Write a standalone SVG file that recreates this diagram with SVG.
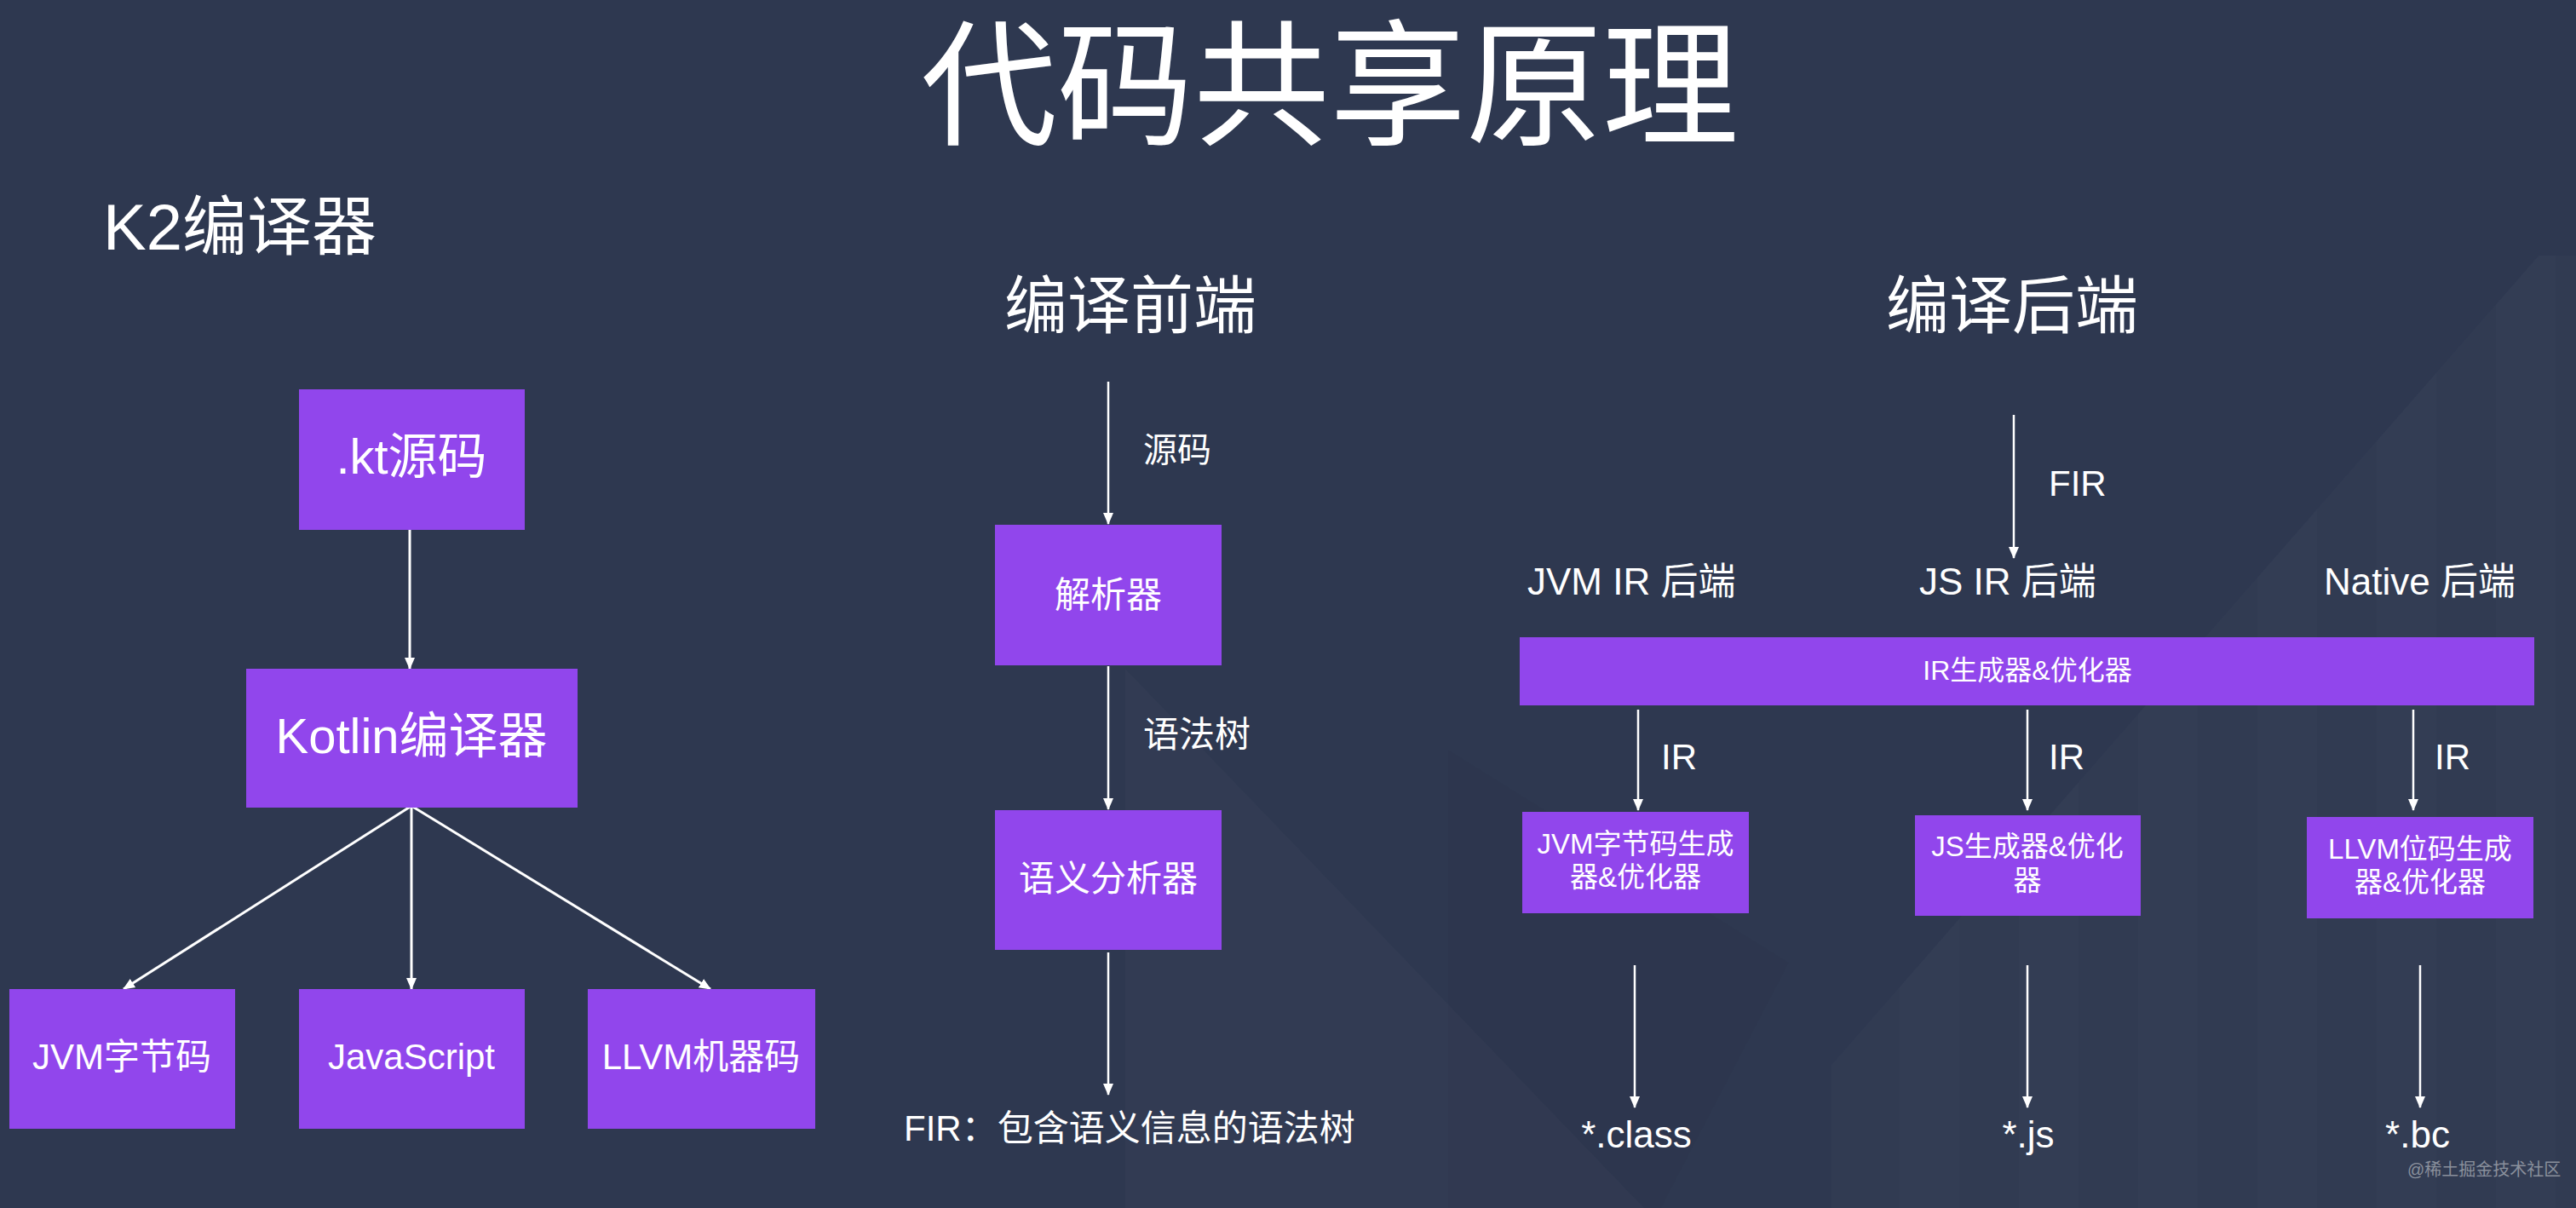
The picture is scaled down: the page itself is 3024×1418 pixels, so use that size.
<svg xmlns="http://www.w3.org/2000/svg" width="3024" height="1418" viewBox="0 0 3024 1418">
<style>
text{font-family:"Liberation Sans","Noto Sans CJK SC",sans-serif;fill:#ffffff}
.box{fill:#9146ec}
.c{text-anchor:middle}
.conn line{stroke:#ffffff;stroke-width:2.5}
.thick line{stroke-width:3}
</style>
<defs>
<marker id="ah" markerUnits="userSpaceOnUse" markerWidth="14" markerHeight="16" refX="13" refY="6" orient="auto" viewBox="0 0 14 12">
<path d="M0,0 L14,6 L0,12 Z" fill="#ffffff"/>
</marker>
<clipPath id="stripeClip"><polygon points="2150,1418 2150,1250 2980,300 3024,300 3024,1418"/></clipPath>
</defs>
<rect width="3024" height="1418" fill="#2e3850"/>
<g id="background-deco">
<polygon points="1321,785 1321,1418 1930,1418" fill="#ffffff" opacity="0.018"/>
<polygon points="1700,880 1700,1418 1950,1418 2100,1130" fill="#000000" opacity="0.02"/>
<g clip-path="url(#stripeClip)">
<rect x="2150" y="0" width="874" height="1418" fill="#ffffff" opacity="0.014"/>
<rect x="2230" y="0" width="70" height="1418" fill="#ffffff" opacity="0.012"/>
<rect x="2370" y="0" width="70" height="1418" fill="#ffffff" opacity="0.012"/>
<rect x="2510" y="0" width="70" height="1418" fill="#ffffff" opacity="0.012"/>
<rect x="2650" y="0" width="70" height="1418" fill="#ffffff" opacity="0.012"/>
<rect x="2790" y="0" width="70" height="1418" fill="#ffffff" opacity="0.012"/>
<rect x="2930" y="0" width="70" height="1418" fill="#ffffff" opacity="0.012"/>
</g>
</g>

<g id="title"><text x="1561" y="158" class="c" font-size="160">代码共享原理</text></g>
<g id="heading-k2"><text x="121" y="293" font-size="76">K2编译器</text></g>
<g id="heading-frontend"><text x="1327" y="385" class="c" font-size="74">编译前端</text></g>
<g id="heading-backend"><text x="2362" y="385" class="c" font-size="74">编译后端</text></g>

<g id="conn" class="conn">
<g class="thick">
<line x1="481" y1="622" x2="481" y2="785" marker-end="url(#ah)"/>
<line x1="483" y1="946" x2="145" y2="1161" marker-end="url(#ah)"/>
<line x1="483" y1="946" x2="483" y2="1161" marker-end="url(#ah)"/>
<line x1="483" y1="946" x2="834" y2="1161" marker-end="url(#ah)"/>
</g>
<line x1="1301" y1="448" x2="1301" y2="615" marker-end="url(#ah)"/>
<line x1="1301" y1="782" x2="1301" y2="950" marker-end="url(#ah)"/>
<line x1="1301" y1="1118" x2="1301" y2="1285" marker-end="url(#ah)"/>
<line x1="2364" y1="487" x2="2364" y2="655" marker-end="url(#ah)"/>
<line x1="1923" y1="833" x2="1923" y2="951" marker-end="url(#ah)"/>
<line x1="2380" y1="833" x2="2380" y2="951" marker-end="url(#ah)"/>
<line x1="2833" y1="833" x2="2833" y2="951" marker-end="url(#ah)"/>
<line x1="1919" y1="1133" x2="1919" y2="1300" marker-end="url(#ah)"/>
<line x1="2380" y1="1133" x2="2380" y2="1300" marker-end="url(#ah)"/>
<line x1="2841" y1="1133" x2="2841" y2="1300" marker-end="url(#ah)"/>
</g>

<g id="edge-labels">
<text x="1342" y="542" font-size="40">源码</text>
<text x="1342" y="877" font-size="42">语法树</text>
<text x="2405" y="582" font-size="42">FIR</text>
<text x="1950" y="903" font-size="42">IR</text>
<text x="2405" y="903" font-size="42">IR</text>
<text x="2858" y="903" font-size="42">IR</text>
</g>

<g id="kt-source"><rect class="box" x="351" y="457" width="265" height="165"/><text x="483" y="556" class="c" font-size="58">.kt源码</text></g>
<g id="kotlin-compiler"><rect class="box" x="289" y="785" width="389" height="163"/><text x="483" y="884" class="c" font-size="58">Kotlin编译器</text></g>
<g id="jvm-bytecode"><rect class="box" x="11" y="1161" width="265" height="164"/><text x="143" y="1255" class="c" font-size="42">JVM字节码</text></g>
<g id="javascript"><rect class="box" x="351" y="1161" width="265" height="164"/><text x="483" y="1255" class="c" font-size="42">JavaScript</text></g>
<g id="llvm-machine"><rect class="box" x="690" y="1161" width="267" height="164"/><text x="823" y="1255" class="c" font-size="42">LLVM机器码</text></g>

<g id="parser"><rect class="box" x="1168" y="616" width="266" height="165"/><text x="1301" y="713" class="c" font-size="42">解析器</text></g>
<g id="semantic-analyzer"><rect class="box" x="1168" y="951" width="266" height="164"/><text x="1301" y="1046" class="c" font-size="42">语义分析器</text></g>
<g id="fir-output"><text x="1061" y="1339" font-size="42">FIR：包含语义信息的语法树</text></g>

<g id="jvm-ir-backend"><text x="1793" y="698" font-size="44">JVM IR 后端</text></g>
<g id="js-ir-backend"><text x="2253" y="698" font-size="44">JS IR 后端</text></g>
<g id="native-backend"><text x="2728" y="698" font-size="44">Native 后端</text></g>
<g id="ir-generator"><rect class="box" x="1784" y="748" width="1191" height="80"/><text x="2380" y="798" class="c" font-size="32">IR生成器&amp;优化器</text></g>

<g id="jvm-gen"><rect class="box" x="1787" y="953" width="266" height="119"/><text class="c" font-size="33"><tspan x="1920" y="1002">JVM字节码生成</tspan><tspan x="1920" y="1041">器&amp;优化器</tspan></text></g>
<g id="js-gen"><rect class="box" x="2248" y="957" width="265" height="118"/><text class="c" font-size="33"><tspan x="2380" y="1005">JS生成器&amp;优化</tspan><tspan x="2380" y="1045">器</tspan></text></g>
<g id="llvm-gen"><rect class="box" x="2708" y="959" width="266" height="119"/><text class="c" font-size="33"><tspan x="2841" y="1008">LLVM位码生成</tspan><tspan x="2841" y="1047">器&amp;优化器</tspan></text></g>

<g id="out-class"><text x="1921" y="1347" class="c" font-size="44">*.class</text></g>
<g id="out-js"><text x="2381" y="1347" class="c" font-size="44">*.js</text></g>
<g id="out-bc"><text x="2838" y="1347" class="c" font-size="44">*.bc</text></g>

<g id="watermark"><text x="2826" y="1380" font-size="20" style="fill:#8a909c">@稀土掘金技术社区</text></g>
</svg>
